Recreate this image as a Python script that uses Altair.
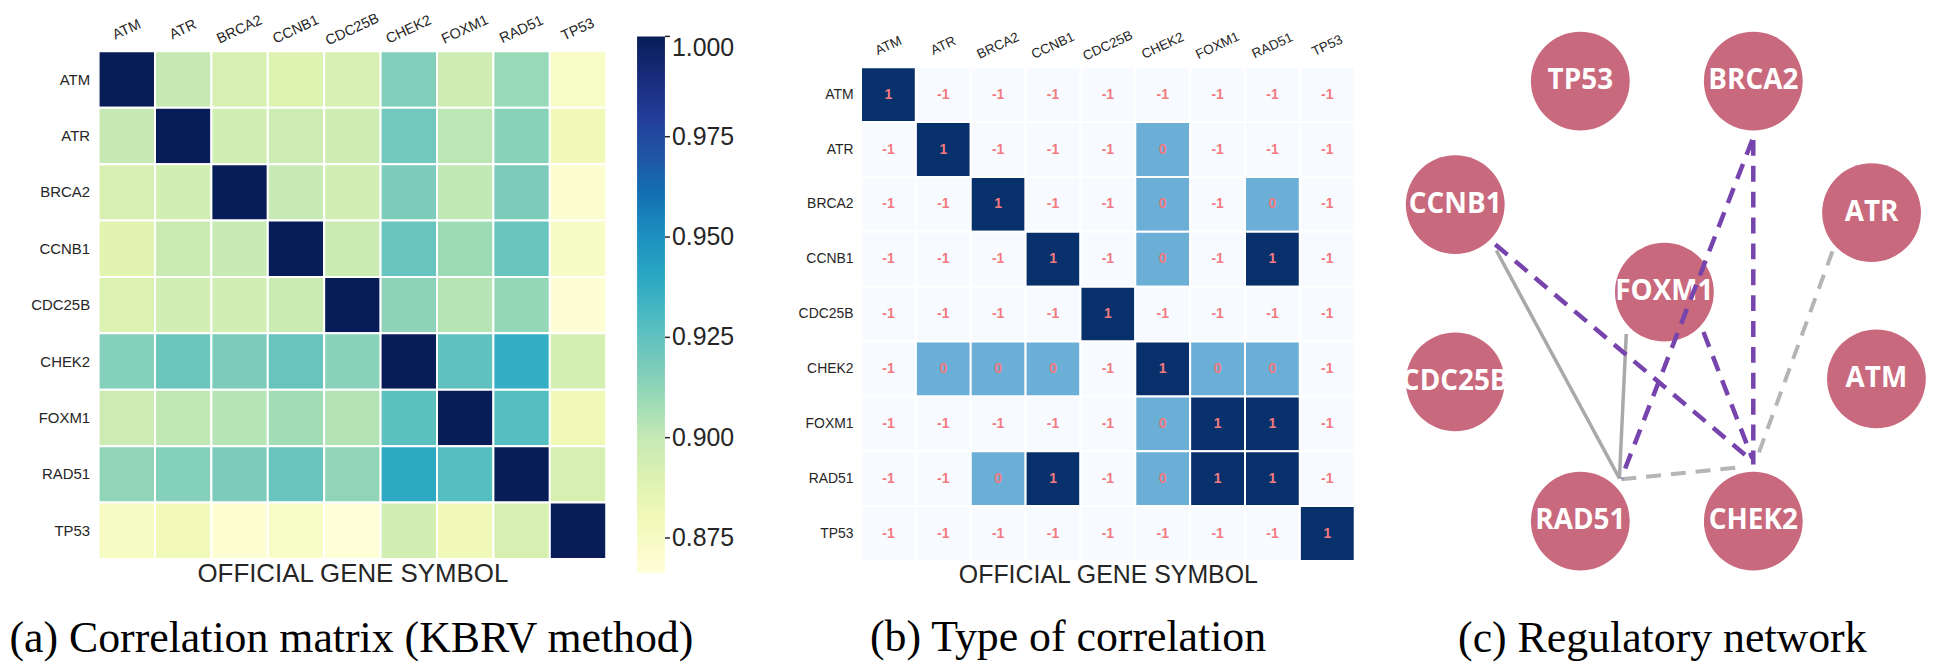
import altair as alt
import pandas as pd
import numpy as np

genes = ["ATM", "ATR", "BRCA2", "CCNB1", "CDC25B", "CHEK2", "FOXM1", "RAD51", "TP53"]

# (a) correlation matrix (KBRV), one list per row
corr_ATM    = [1.000, 0.900, 0.892, 0.889, 0.892, 0.916, 0.896, 0.910, 0.874]
corr_ATR    = [0.900, 1.000, 0.895, 0.897, 0.896, 0.920, 0.902, 0.914, 0.880]
corr_BRCA2  = [0.892, 0.895, 1.000, 0.899, 0.894, 0.917, 0.901, 0.917, 0.871]
corr_CCNB1  = [0.888, 0.898, 0.899, 1.000, 0.898, 0.923, 0.909, 0.923, 0.875]
corr_CDC25B = [0.890, 0.895, 0.895, 0.898, 1.000, 0.913, 0.903, 0.911, 0.868]
corr_CHEK2  = [0.915, 0.922, 0.917, 0.923, 0.914, 1.000, 0.925, 0.937, 0.893]
corr_FOXM1  = [0.897, 0.901, 0.903, 0.908, 0.904, 0.926, 1.000, 0.928, 0.881]
corr_RAD51  = [0.912, 0.915, 0.917, 0.923, 0.912, 0.939, 0.928, 1.000, 0.892]
corr_TP53   = [0.875, 0.879, 0.869, 0.874, 0.867, 0.894, 0.880, 0.892, 1.000]
corr_rows = [corr_ATM, corr_ATR, corr_BRCA2, corr_CCNB1, corr_CDC25B,
             corr_CHEK2, corr_FOXM1, corr_RAD51, corr_TP53]
colorbar_ticks = [0.875, 0.900, 0.925, 0.950, 0.975, 1.000]

# (b) type of correlation, one list per row
type_ATM    = [1, -1, -1, -1, -1, -1, -1, -1, -1]
type_ATR    = [-1, 1, -1, -1, -1, 0, -1, -1, -1]
type_BRCA2  = [-1, -1, 1, -1, -1, 0, -1, 0, -1]
type_CCNB1  = [-1, -1, -1, 1, -1, 0, -1, 1, -1]
type_CDC25B = [-1, -1, -1, -1, 1, -1, -1, -1, -1]
type_CHEK2  = [-1, 0, 0, 0, -1, 1, 0, 0, -1]
type_FOXM1  = [-1, -1, -1, -1, -1, 0, 1, 1, -1]
type_RAD51  = [-1, -1, 0, 1, -1, 0, 1, 1, -1]
type_TP53   = [-1, -1, -1, -1, -1, -1, -1, -1, 1]
type_rows = [type_ATM, type_ATR, type_BRCA2, type_CCNB1, type_CDC25B,
             type_CHEK2, type_FOXM1, type_RAD51, type_TP53]

# (c) regulatory network layout
node_names = ["TP53", "BRCA2", "CCNB1", "ATR", "FOXM1", "CDC25B", "ATM", "RAD51", "CHEK2"]
node_x = [1584, 1761, 1456, 1882, 1670, 1456, 1887, 1584, 1761]
node_y = [78, 78, 202, 210, 290, 380, 377, 520, 520]

edge_src  = ["CCNB1", "FOXM1", "RAD51", "ATR", "CCNB1", "FOXM1", "BRCA2", "BRCA2"]
edge_dst  = ["RAD51", "RAD51", "CHEK2", "CHEK2", "CHEK2", "CHEK2", "CHEK2", "RAD51"]
edge_kind = ["solid", "solid", "gray dashed", "gray dashed",
             "purple dashed", "purple dashed", "purple dashed", "purple dashed"]
edge_x1 = [1498, 1631, 1626, 1842, 1497, 1710, 1761, 1760]
edge_y1 = [248, 332, 478, 249, 242, 330, 137, 137]
edge_x2 = [1624, 1624, 1747, 1766, 1757, 1760, 1761, 1626]
edge_y2 = [477, 477, 466, 453, 457, 457, 463, 477]

captions = ["(a) Correlation matrix (KBRV method)", "(b) Type of correlation", "(c) Regulatory network"]
axis_title = "OFFICIAL GENE SYMBOL"

# ---------------------------------------------------------------------------
SANS = "Liberation Sans"
SERIF = "Liberation Serif"
TXT = "#262626"

df_a = pd.DataFrame([{"row": r, "col": c, "value": v}
                     for r, vals in zip(genes, corr_rows) for c, v in zip(genes, vals)])
df_ticks = pd.DataFrame({"tick": colorbar_ticks})
df_b = pd.DataFrame([{"row": r, "col": c, "value": v, "label": str(v)}
                     for r, vals in zip(genes, type_rows) for c, v in zip(genes, vals)])
df_nodes = pd.DataFrame({"name": node_names, "x": node_x, "y": node_y})
df_edges = pd.DataFrame({"src": edge_src, "dst": edge_dst, "kind": edge_kind,
                         "x": edge_x1, "y": edge_y1, "x2": edge_x2, "y2": edge_y2})

CMIN, CMAX = 0.8663, 1.0
ylgnbu = ["#ffffd9", "#edf8b1", "#c7e9b4", "#7fcdbb", "#41b6c4",
          "#1d91c0", "#225ea8", "#253494", "#081d58"]
stops = [float(s) for s in np.linspace(CMIN, CMAX, len(ylgnbu))]

W_A, H_A, R_A = 746, 510, 510
W_B, H_B, R_B, TOP_B = 522, 512, 496, 16
W_C, H_C = 540, 530
CB_X, CB_Y, CB_LEN, CB_W = 541, -15, 539, 28


def top_axis(size, pad):
    return alt.Axis(orient="top", title=None, labelAngle=-25, labelAlign="center",
                    labelBaseline="middle", labelPadding=pad, ticks=False, tickSize=0,
                    domain=False, labelFont=SANS, labelFontSize=size, labelColor=TXT)


def left_axis(size, pad):
    return alt.Axis(title=None, ticks=False, tickSize=0, domain=False, labelPadding=pad,
                    labelFont=SANS, labelFontSize=size, labelColor=TXT)


def bottom_title_axis(size, pad):
    return alt.Axis(orient="bottom", labels=False, ticks=False, tickSize=0, domain=False,
                    title=axis_title, titleFont=SANS, titleFontSize=size,
                    titleFontWeight="normal", titleColor=TXT, titlePadding=pad)


def caption(text, dx, offset):
    return alt.TitleParams(text, orient="bottom", anchor="middle", frame="group",
                           font=SERIF, fontSize=44, fontWeight="normal", color="black",
                           dx=dx, offset=offset)


# ---------------- panel (a)
xa = dict(sort=genes, scale=alt.Scale(range=[0, R_A]))
heat_a = alt.Chart(df_a).mark_rect(stroke="white", strokeWidth=2).encode(
    x=alt.X("col:N", axis=top_axis(14.5, 22), **xa),
    y=alt.Y("row:N", sort=genes, scale=alt.Scale(range=[0, H_A]), axis=left_axis(15, 9)),
    color=alt.Color("value:Q", scale=alt.Scale(domain=stops, range=ylgnbu),
                    legend=alt.Legend(orient="none", legendX=CB_X, legendY=CB_Y,
                                      direction="vertical", gradientLength=CB_LEN,
                                      gradientThickness=CB_W, gradientStrokeWidth=0,
                                      title=None, values=colorbar_ticks,
                                      format=".3f", labelFont=SANS, labelFontSize=25,
                                      labelColor=TXT, labelOffset=7, labelOverlap=False,
                                      labelBaseline="middle")),
)
title_a = alt.Chart(df_a).mark_rect(opacity=0).encode(
    x=alt.X("col:N", axis=bottom_title_axis(26, 2), **xa))
cb_ticks = alt.Chart(df_ticks).mark_rule(color=TXT, strokeWidth=1.5).encode(
    y=alt.Y("tick:Q", scale=alt.Scale(domain=[CMIN, CMAX], range=[CB_Y + CB_LEN, CB_Y]),
            axis=None),
    x=alt.value(CB_X + CB_W), x2=alt.value(CB_X + CB_W + 5))
panel_a = alt.layer(heat_a, title_a, cb_ticks).resolve_axis(x="independent").resolve_scale(
    y="independent").properties(width=W_A, height=H_A, title=caption(captions[0], -119, 30))

# ---------------- panel (b)
xb = dict(sort=genes, scale=alt.Scale(range=[0, R_B]))
yb = dict(sort=genes, scale=alt.Scale(range=[TOP_B, H_B]))
heat_b = alt.Chart(df_b).mark_rect(stroke="white", strokeWidth=2).encode(
    x=alt.X("col:N", axis=top_axis(13.5, 6), **xb),
    y=alt.Y("row:N", axis=left_axis(14, 8), **yb),
    color=alt.Color("value:Q", scale=alt.Scale(domain=[-1, 0, 1],
                                               range=["#f7fbff", "#6baed6", "#08306b"]),
                    legend=None),
)
text_b = alt.Chart(df_b).mark_text(font=SANS, fontSize=14, fontWeight="bold",
                                   color="#f27a80").encode(
    x=alt.X("col:N", axis=None, **xb),
    y=alt.Y("row:N", axis=left_axis(14, 8), **yb),
    text="label:N")
title_b = alt.Chart(df_b).mark_rect(opacity=0).encode(
    x=alt.X("col:N", axis=bottom_title_axis(25, 2), **xb))
panel_b = alt.layer(heat_b, text_b, title_b).resolve_axis(x="independent").properties(
    width=W_B, height=H_B, title=caption(captions[1], -53, 28))

# ---------------- panel (c)
xc = alt.Scale(domain=[1400, 1950])
yc = alt.Scale(domain=[48, 48 + H_C], reverse=True)
nodes = alt.Chart(df_nodes).mark_point(shape="circle", filled=True, opacity=1,
                                        size=float(np.pi * 56 ** 2), color="#c9697d").encode(
    x=alt.X("x:Q", scale=xc, axis=None), y=alt.Y("y:Q", scale=yc, axis=None))
edges = alt.Chart(df_edges).mark_rule(strokeCap="butt").encode(
    x=alt.X("x:Q", scale=xc, axis=None), y=alt.Y("y:Q", scale=yc, axis=None),
    x2="x2:Q", y2="y2:Q",
    color=alt.Color("kind:N", scale=alt.Scale(domain=["solid", "gray dashed", "purple dashed"],
                                              range=["#a9a9a9", "#b5b5b8", "#7743ad"]),
                    legend=None),
    strokeDash=alt.StrokeDash("kind:N", scale=alt.Scale(
        domain=["solid", "gray dashed", "purple dashed"],
        range=[[1, 0], [15, 10], [16, 10]]), legend=None),
    strokeWidth=alt.StrokeWidth("kind:N", scale=alt.Scale(
        domain=["solid", "gray dashed", "purple dashed"], range=[3.5, 4.5, 4.5]), legend=None),
)
labels = alt.Chart(df_nodes).mark_text(font="Open Sans", fontWeight="bold", fontSize=28,
                                        color="white").encode(
    x=alt.X("x:Q", scale=xc, axis=None), y=alt.Y("y:Q", scale=yc, axis=None), text="name:N")
panel_c = alt.layer(nodes, labels, edges).resolve_scale(color="independent").properties(
    width=W_C, height=H_C, title=caption(captions[2], -7, 38))

chart = alt.hconcat(panel_a, panel_b, panel_c, spacing=20, bounds="flush").resolve_scale(
    color="independent", strokeDash="independent", strokeWidth="independent"
).configure_view(strokeWidth=0).properties(
    padding={"left": 0, "top": 0, "right": 0, "bottom": 0}, background="white")

chart.save("out.html", embed_options={"renderer": "svg", "actions": False})
